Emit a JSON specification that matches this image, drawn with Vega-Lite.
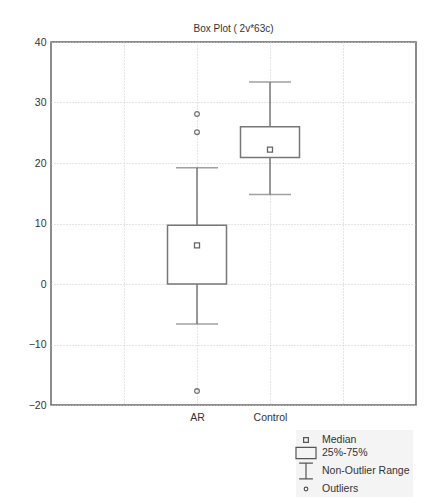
{
  "$schema": "https://vega.github.io/schema/vega-lite/v6.json",
  "autosize": "none",
  "width": 365,
  "height": 363,
  "padding": {"left": 51, "top": 42, "right": 9, "bottom": 92},
  "background": "white",
  "title": {"text": "Box Plot ( 2v*63c)", "fontSize": 10, "fontWeight": "normal", "font": "Liberation Sans", "color": "#333", "offset": 3},
  "config": {
    "font": "Liberation Sans",
    "view": {"stroke": "#666", "strokeWidth": 1.5},
    "axis": {"domain": false, "ticks": false, "labelFont": "Liberation Sans", "labelFontSize": 10.5, "labelColor": "#333", "gridColor": "#cccccc", "gridDash": [1, 2], "gridWidth": 1, "title": null}
  },
  "datasets": {
    "boxes": [
      {"group": "AR", "lower": -6.6, "q1": 0.0, "median": 6.4, "q3": 9.7, "upper": 19.2},
      {"group": "Control", "lower": 14.8, "q1": 20.9, "median": 22.2, "q3": 26.0, "upper": 33.4}
    ],
    "outliers": [
      {"group": "AR", "value": 28.1},
      {"group": "AR", "value": 25.1},
      {"group": "AR", "value": -17.7}
    ],
    "legend": [
      {"item": "Median"},
      {"item": "25%-75%"},
      {"item": "Non-Outlier Range"},
      {"item": "Outliers"}
    ]
  },
  "encoding": {
    "x": {"field": "group", "type": "nominal", "scale": {"type": "point", "domain": ["_a", "AR", "Control", "_b"], "padding": 1}, "axis": {"grid": true, "labelExpr": "indexof(datum.value, '_') == 0 ? '' : datum.value", "labelPadding": 7, "labelAngle": 0}}
  },
  "layer": [
    {
      "data": {"name": "boxes"},
      "mark": {"type": "rule", "stroke": "#777", "strokeWidth": 1.5},
      "encoding": {"y": {"field": "lower", "type": "quantitative", "scale": {"domain": [-20, 40], "nice": false, "zero": false}, "axis": {"values": [-20, -10, 0, 10, 20, 30, 40], "labelPadding": 5}}, "y2": {"field": "upper"}}
    },
    {
      "data": {"name": "boxes"},
      "mark": {"type": "bar", "size": 59, "fill": "white", "stroke": "#777", "strokeWidth": 1.5},
      "encoding": {"y": {"field": "q1", "type": "quantitative"}, "y2": {"field": "q3"}}
    },
    {
      "data": {"name": "boxes"},
      "mark": {"type": "tick", "size": 42, "thickness": 1.5, "color": "#777", "orient": "horizontal"},
      "encoding": {"y": {"field": "upper", "type": "quantitative"}}
    },
    {
      "data": {"name": "boxes"},
      "mark": {"type": "tick", "size": 42, "thickness": 1.5, "color": "#777", "orient": "horizontal"},
      "encoding": {"y": {"field": "lower", "type": "quantitative"}}
    },
    {
      "data": {"name": "boxes"},
      "mark": {"type": "point", "shape": "square", "size": 25, "filled": false, "stroke": "#666", "strokeWidth": 1.3, "opacity": 1},
      "encoding": {"y": {"field": "median", "type": "quantitative"}}
    },
    {
      "data": {"name": "outliers"},
      "mark": {"type": "point", "shape": "circle", "size": 22, "filled": false, "stroke": "#777", "strokeWidth": 1.3, "opacity": 1},
      "encoding": {"y": {"field": "value", "type": "quantitative"}}
    },
    {
      "data": {"name": "legend"},
      "mark": {"type": "point", "opacity": 0, "filled": false},
      "encoding": {
        "x": {"value": 0},
        "y": {"value": 0},
        "shape": {
          "field": "item", "type": "nominal",
          "scale": {"domain": ["Median", "25%-75%", "Non-Outlier Range", "Outliers"],
                    "range": ["M-0.4,-0.4H0.4V0.4H-0.4Z", "M-1.67,-0.95H1.67V0.95H-1.67Z", "M-1.15,-1.3H1.15M0,-1.3V1.3M-1.15,1.3H1.15", "M0.3,0A0.3,0.3 0 1 1 -0.3,0A0.3,0.3 0 1 1 0.3,0"]},
          "legend": {
            "orient": "none", "legendX": 245, "legendY": 388, "title": null,
            "symbolSize": 144, "symbolOpacity": 1, "symbolStrokeColor": "#555", "symbolFillColor": "transparent", "symbolStrokeWidth": 1.2,
            "labelFont": "Liberation Sans", "labelFontSize": 10.5, "labelColor": "#333", "labelOffset": 9,
            "rowPadding": -2, "fillColor": "#f4f4f4", "padding": 3
          }
        }
      }
    }
  ]
}
